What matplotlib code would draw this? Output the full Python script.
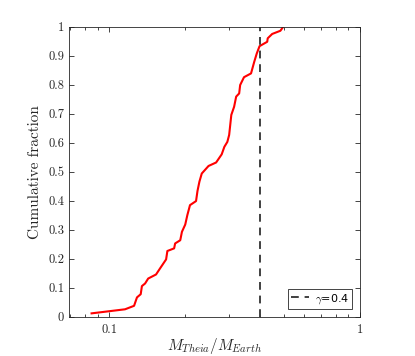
import matplotlib
matplotlib.use("Agg")
import matplotlib.pyplot as plt
from matplotlib.ticker import LogLocator, NullFormatter, FixedLocator, FixedFormatter

plt.rcParams['mathtext.fontset'] = 'cm'
plt.rcParams['font.family'] = 'cmr10'
plt.rcParams['axes.formatter.use_mathtext'] = True

# theia mass ratio vs cumulative fraction
mass_ratio = [0.085, 0.1156, 0.1256, 0.129, 0.1335, 0.135, 0.139, 0.143, 0.1537, 0.1595,
              0.1686, 0.1706, 0.1815, 0.1832, 0.192, 0.195, 0.201, 0.205, 0.210, 0.222,
              0.225, 0.229, 0.234, 0.249, 0.267, 0.281, 0.288, 0.296, 0.301, 0.307,
              0.315, 0.321, 0.330, 0.333, 0.345, 0.368, 0.379, 0.388, 0.398, 0.427,
              0.429, 0.447, 0.482, 0.495]
cum_frac = [0.012, 0.026, 0.038, 0.067, 0.078, 0.106, 0.115, 0.132, 0.146, 0.167,
            0.198, 0.227, 0.236, 0.253, 0.264, 0.293, 0.318, 0.351, 0.385, 0.399,
            0.434, 0.466, 0.494, 0.52, 0.532, 0.56, 0.586, 0.603, 0.627, 0.696,
            0.724, 0.759, 0.770, 0.799, 0.826, 0.839, 0.879, 0.908, 0.933, 0.948,
            0.960, 0.975, 0.986, 1.0]
gamma = 0.4

fig = plt.figure(figsize=(4.15, 3.56), dpi=100)
ax = fig.add_axes([0.166, 0.11, 0.701, 0.815])

ax.plot(mass_ratio, cum_frac, color='red', lw=1.5)
ax.axvline(gamma, color='#404040', lw=1.4, ls=(0, (4, 3)), label=r'$\gamma$=0.4')

ax.set_xscale('log')
ax.set_xlim(0.069, 1)
ax.set_ylim(0, 1)
ax.xaxis.set_major_locator(FixedLocator([0.1, 1]))
ax.xaxis.set_major_formatter(FixedFormatter(['0.1', '1']))
ax.xaxis.set_minor_locator(LogLocator(base=10, subs=range(2, 10)))
ax.xaxis.set_minor_formatter(NullFormatter())
ax.set_yticks([i / 10 for i in range(11)])
ax.set_yticklabels(['0', '0.1', '0.2', '0.3', '0.4', '0.5', '0.6', '0.7', '0.8', '0.9', '1'])

for s in ax.spines.values():
    s.set_color('#262626')
    s.set_linewidth(0.6)
ax.tick_params(which='both', direction='in', top=True, right=True, colors='#262626',
               labelsize=9, width=0.6)
ax.tick_params(which='major', length=3.5)
ax.tick_params(which='minor', length=2)
ax.tick_params(axis='x', pad=5)

ax.set_xlabel(r'$M_{Theia}/M_{Earth}$', fontsize=11, color='#262626', labelpad=0)
ax.set_ylabel('Cumulative fraction', fontsize=11, color='#262626')

leg = ax.legend(loc='lower right', prop={'family': 'DejaVu Sans', 'size': 8},
                fancybox=False, framealpha=1, edgecolor='#262626',
                handlelength=1.6, handletextpad=0.5, borderpad=0.3, borderaxespad=0.7)
leg.get_frame().set_linewidth(0.6)

fig.savefig('out.png', dpi=100)
